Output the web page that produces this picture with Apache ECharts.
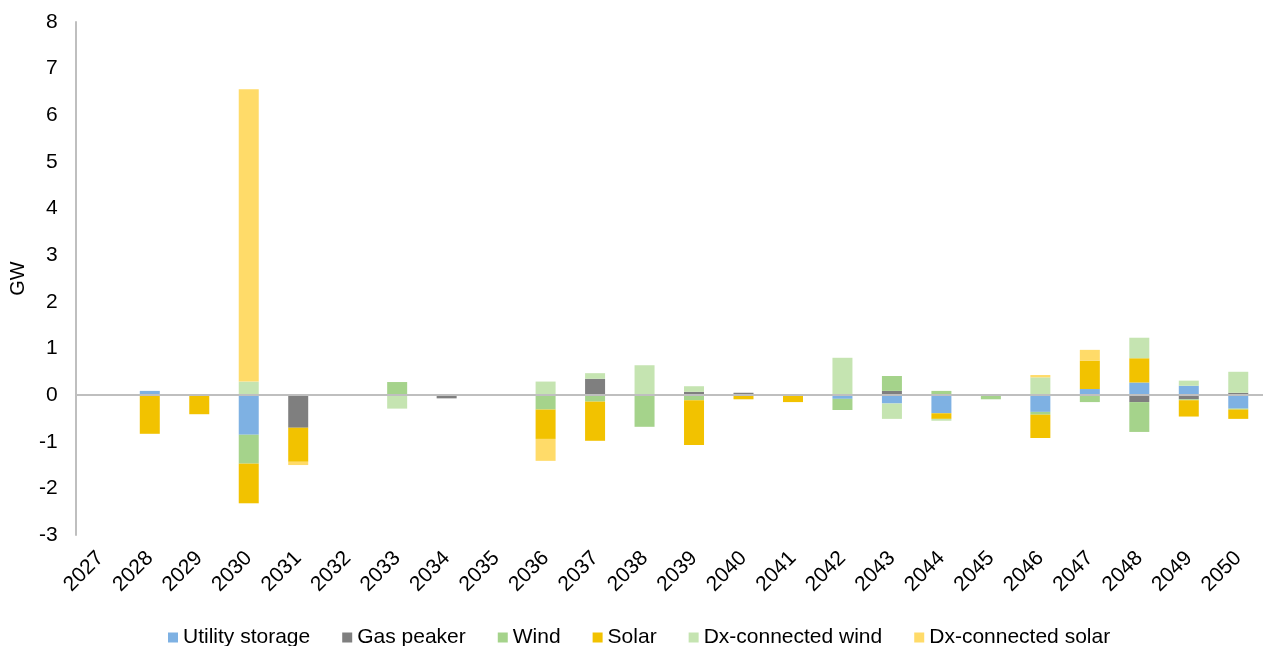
<!DOCTYPE html>
<html>
<head>
<meta charset="utf-8">
<script src="https://cdn.jsdelivr.net/npm/echarts@6/dist/echarts.min.js"></script>
<style>
html,body{margin:0;padding:0;background:#fff;}
#chart{width:1263px;height:646px;}
</style>
</head>
<body>
<div id="chart"></div>
<script>
const years = ['2027','2028','2029','2030','2031','2032','2033','2034','2035','2036','2037','2038','2039','2040','2041','2042','2043','2044','2045','2046','2047','2048','2049','2050'];
const yTicks = [-3, 8, 1];
//                        27    28    29    30     31    32   33    34    35   36    37    38    39    40    41    42    43    44    45    46    47    48    49    50
const utilityStorage  = [0,   0.09, 0,   -0.85,  0,    0,   0,    0,    0,   0,    0,    0,    0,    0,    0,   -0.08,-0.18,-0.39, 0,   -0.36, 0.13, 0.27, 0.20,-0.29];
const gasPeaker       = [0,   0,    0,    0,    -0.70, 0,   0,   -0.07, 0,   0,    0.35, 0,    0.07, 0.05, 0,    0,    0.09, 0,    0,    0,    0,   -0.15,-0.09, 0.05];
const wind            = [0,   0,    0,   -0.62,  0,    0,   0.28, 0,    0,  -0.31,-0.14,-0.68,-0.11, 0,    0,   -0.24, 0.32, 0.09,-0.09,-0.06,-0.15,-0.64,-0.02,-0.02];
const solar           = [0,  -0.83,-0.41,-0.85, -0.73, 0,   0,    0,    0,  -0.63,-0.84, 0,   -0.96,-0.09,-0.15, 0,    0,   -0.12, 0,   -0.50, 0.61, 0.52,-0.35,-0.20];
const dxWind          = [0,   0,    0,    0.29,  0,    0,  -0.29, 0,    0,   0.29, 0.12, 0.64, 0.12, 0,    0,    0.80,-0.33,-0.04, 0,    0.38, 0,    0.44, 0.11, 0.45];
const dxSolar         = [0,   0,    0,    6.27, -0.07, 0,   0,    0,    0,  -0.47, 0,    0,    0,    0,    0,    0,    0,    0,    0,    0.05, 0.23, 0,    0,    0];

const seriesDefs = [
  ['Utility storage', utilityStorage, '#7EB1E3'],
  ['Gas peaker', gasPeaker, '#7F7F7F'],
  ['Wind', wind, '#A5D38B'],
  ['Solar', solar, '#F2C200'],
  ['Dx-connected wind', dxWind, '#C5E4B1'],
  ['Dx-connected solar', dxSolar, '#FFDB69']
];

const FONT = 'Liberation Sans, Arial, sans-serif';
const chart = echarts.init(document.getElementById('chart'), null, {renderer: 'canvas'});

const series = seriesDefs.map((d, i) => {
  const s = {
    name: d[0],
    type: 'bar',
    stack: 'total',
    stackStrategy: 'samesign',
    barWidth: 20,
    data: d[1],
    itemStyle: {color: d[2]},
    emphasis: {disabled: true},
    animation: false
  };
  if (i === 0) {
    s.markLine = {
      silent: true,
      symbol: 'none',
      label: {show: false},
      lineStyle: {color: '#BFBFBF', width: 2, type: 'solid'},
      data: [{yAxis: 0}],
      animation: false
    };
  }
  return s;
});

chart.setOption({
  animation: false,
  backgroundColor: '#fff',
  textStyle: {fontFamily: FONT},
  grid: {left: 75, right: 0, top: 22, bottom: 111, containLabel: false},
  legend: {
    data: seriesDefs.map(d => d[0]),
    top: 622,
    left: 163,
    icon: 'rect',
    itemWidth: 10,
    itemHeight: 10,
    itemGap: 32,
    textStyle: {fontSize: 21, color: '#000', fontFamily: FONT}
  },
  xAxis: {
    type: 'category',
    data: years,
    axisLine: {show: false, onZero: false},
    axisTick: {show: false},
    axisLabel: {rotate: 45, fontSize: 21, color: '#000', margin: 20, interval: 0, fontFamily: FONT},
    splitLine: {show: false}
  },
  yAxis: {
    type: 'value',
    min: yTicks[0],
    max: yTicks[1],
    interval: yTicks[2],
    name: 'GW',
    nameLocation: 'middle',
    nameGap: 45,
    nameRotate: 90,
    nameTextStyle: {fontSize: 20, color: '#000', fontFamily: FONT},
    axisLine: {show: true, lineStyle: {color: '#BFBFBF', width: 2}},
    axisTick: {show: false},
    axisLabel: {fontSize: 21, color: '#000', margin: 18, fontFamily: FONT},
    splitLine: {show: false}
  },
  series: series
});
</script>
</body>
</html>
